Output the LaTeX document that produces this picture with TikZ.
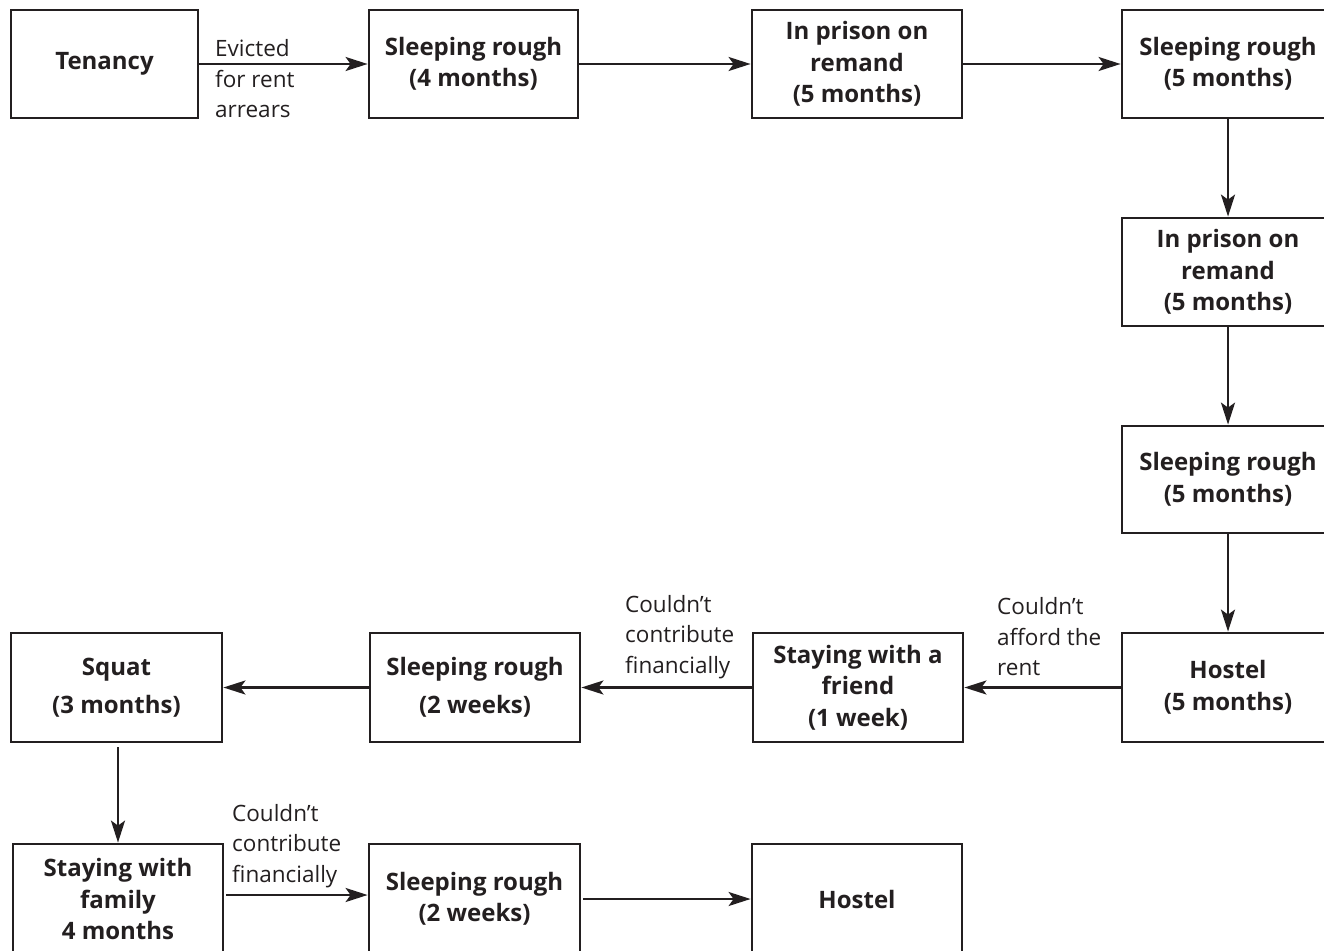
\documentclass[tikz,border=0pt]{standalone}
\usepackage{fontspec}
\setmainfont{Open Sans}
\usetikzlibrary{arrows.meta}
\definecolor{ink}{HTML}{231F20}
\begin{document}
\begin{tikzpicture}[x=1pt,y=-1pt,
  box/.style={draw=ink, line width=2.8pt, inner sep=0pt, align=center, text=ink,
    font=\fontsize{24}{31.5}\selectfont\bfseries},
  lab/.style={inner sep=0pt, align=left, anchor=west, text=ink,
    font=\fontsize{22.5}{30.5}\selectfont},
  arr/.style={draw=ink, line width=2.4pt, -{Stealth[length=22pt,width=14pt,inset=5pt]}}]
\useasboundingbox (0,0) rectangle (1324,950);
% row 1
\node[box, minimum width=187pt, minimum height=108pt] (ten) at (104.5,64) {Tenancy};
\node[box, minimum width=209pt, minimum height=108pt] (sr1) at (473.5,64) {Sleeping rough\\(4 months)};
\node[box, minimum width=210pt, minimum height=108pt] (pr1) at (857,64) {In prison on\\remand\\(5 months)};
\node[box, minimum width=212pt, minimum height=108pt] (sr2) at (1228,64) {Sleeping rough\\(5 months)};
% right column
\node[box, minimum width=212pt, minimum height=108pt] (pr2) at (1228,272) {In prison on\\remand\\(5 months)};
\node[box, minimum width=212pt, minimum height=107pt] (sr3) at (1228,479.5) {Sleeping rough\\(5 months)};
\node[box, minimum width=212pt, minimum height=109pt] (hos1) at (1228,687.5) {Hostel\\(5 months)};
% row 3
\node[box, minimum width=210pt, minimum height=109pt] (fr) at (858,687.5) {Staying with a\\friend\\(1 week)};
\node[box, minimum width=210pt, minimum height=109pt] (sr4) at (475,687.5) {Sleeping rough\\[6pt](2 weeks)};
\node[box, minimum width=211pt, minimum height=109pt] (sq) at (116.5,687.5) {Squat\\[6pt](3 months)};
% row 4
\node[box, minimum width=210pt, minimum height=110pt] (fam) at (118,899) {Staying with\\family\\4 months};
\node[box, minimum width=211pt, minimum height=110pt] (sr5) at (474.5,899) {Sleeping rough\\(2 weeks)};
\node[box, minimum width=210pt, minimum height=110pt] (hos2) at (857,899) {Hostel};
% connectors
\draw[arr] (ten.east) -- (sr1.west);
\draw[arr] (sr1.east) -- (pr1.west);
\draw[arr] (pr1.east) -- (sr2.west);
\draw[arr] (sr2.south) -- (pr2.north);
\draw[arr] (pr2.south) -- (sr3.north);
\draw[arr] (sr3.south) -- (hos1.north);
\draw[arr] (hos1.west) -- (fr.east);
\draw[arr] (fr.west) -- (sr4.east);
\draw[arr] (sr4.west) -- (sq.east);
\draw[arr, shorten <=4pt] ([xshift=1.5pt]sq.south) -- (fam.north);
\draw[arr, shorten <=2pt] ([yshift=4pt]fam.east) -- ([yshift=4pt]sr5.west);
\draw[arr, shorten <=2pt] (sr5.east) -- (hos2.west);
% labels
\node[lab] (l1) at (215,79) {Evicted\\for rent\\arrears};
\node[lab] (l2) at (625,637) {Couldn’t\\contribute\\financially};
\node[lab] (l3) at (997,637) {Couldn’t\\afford the\\rent};
\node[lab] (l4) at (232,846) {Couldn’t\\contribute\\financially};
\end{tikzpicture}
\end{document}
